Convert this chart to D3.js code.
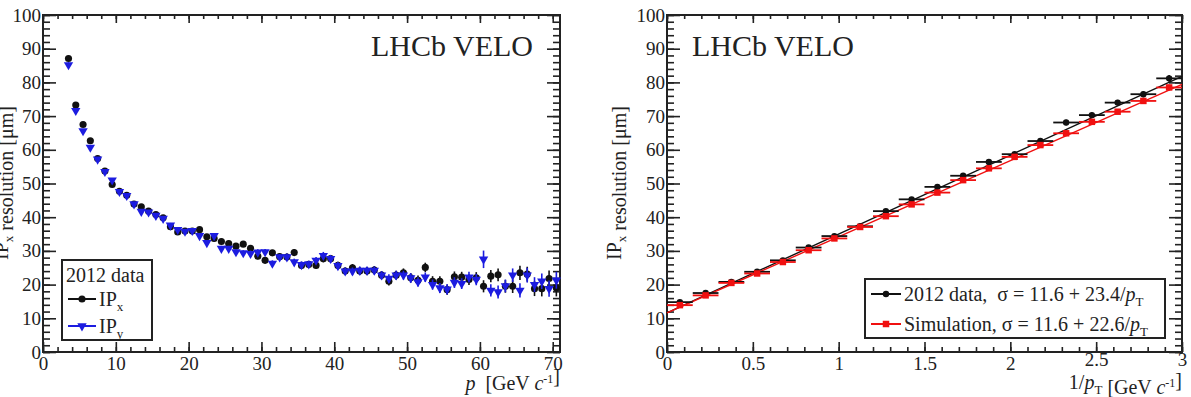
<!DOCTYPE html>
<html>
<head>
<meta charset="utf-8">
<script src="https://cdn.jsdelivr.net/npm/d3@7"></script>
<style>
body { margin: 0; background: #fff; }
svg text { font-family: "Liberation Serif", "Times New Roman", serif; fill: #222; white-space: pre; }
</style>
</head>
<body>
<svg id="chart" width="1191" height="397"></svg>
<script>
// left panel: IP resolution vs p
const pBins = [3.5,4.5,5.5,6.5,7.5,8.5,9.5,10.5,11.5,12.5,
  13.5,14.5,15.5,16.5,17.5,18.5,19.5,20.5,21.5,22.5,
  23.5,24.5,25.5,26.5,27.5,28.5,29.5,30.5,31.5,32.5,
  33.5,34.5,35.5,36.5,37.5,38.5,39.5,40.5,41.5,42.5,
  43.5,44.5,45.5,46.5,47.5,48.5,49.5,50.5,51.5,52.5,
  53.5,54.5,55.5,56.5,57.5,58.5,59.5,60.5,61.5,62.5,
  63.5,64.5,65.5,66.5,67.5,68.5,69.5,70.5];
const ipx = [87.1,73.3,67.5,62.7,57.4,53.7,49.7,47.7,46.5,43.9,
  43.1,41.8,40.8,39.8,37.2,35.6,35.9,35.9,36.3,34.2,
  33.7,32.8,32.2,31.4,32.0,30.8,28.4,27.2,29.4,28.3,
  28.2,29.5,25.7,26.0,25.7,27.7,27.7,25.7,24.0,25.0,
  24.0,24.0,24.3,22.8,21.0,22.8,23.5,22.0,21.3,25.1,
  21.0,21.0,18.5,22.3,22.2,21.5,22.0,19.5,22.5,22.9,
  19.5,19.5,23.5,23.1,18.8,18.8,21.8,19.0];
const ipxErr = [0.8,0.7,0.6,0.6,0.6,0.6,0.6,0.6,0.6,0.6,
  0.6,0.6,0.6,0.6,0.7,0.7,0.7,0.7,0.7,0.7,
  0.8,0.8,0.8,0.8,0.8,0.9,0.9,0.9,0.9,0.9,
  1.0,1.0,1.0,1.0,1.0,1.1,1.1,1.1,1.1,1.1,
  1.2,1.2,1.2,1.2,1.3,1.3,1.3,1.4,1.4,1.4,
  1.5,1.5,1.5,1.6,1.6,1.6,1.7,1.8,1.8,1.9,
  1.9,2.0,2.1,2.2,2.2,2.3,2.4,2.5];
const ipy = [85.2,71.6,65.6,60.7,57.2,53.5,51.0,47.6,46.4,43.9,
  41.7,41.5,40.5,39.6,37.6,36.3,35.8,36.0,34.5,32.4,
  34.5,30.7,30.7,29.7,29.4,29.2,29.6,29.7,26.3,28.2,
  28.2,26.7,25.9,26.1,27.2,28.6,27.7,25.6,24.0,24.0,
  24.2,24.2,24.2,22.8,21.8,22.8,22.8,22.0,20.8,22.2,
  20.0,19.0,18.6,20.6,20.3,22.2,21.5,27.5,18.3,17.8,
  19.6,22.8,18.3,22.8,20.0,21.0,18.8,21.3];
const ipyErr = [0.8,0.7,0.6,0.6,0.6,0.6,0.6,0.6,0.6,0.6,
  0.6,0.6,0.6,0.6,0.7,0.7,0.7,0.7,0.7,0.7,
  0.8,0.8,0.8,0.8,0.8,0.9,0.9,0.9,0.9,0.9,
  1.0,1.0,1.0,1.0,1.0,1.1,1.1,1.1,1.1,1.1,
  1.2,1.2,1.2,1.2,1.3,1.3,1.3,1.4,1.4,1.4,
  1.5,1.5,1.5,1.6,1.6,1.6,1.7,2.6,1.8,1.9,
  1.9,2.0,2.1,2.2,2.2,2.3,2.4,2.5];

// right panel: IPx resolution vs 1/pT
const invPt = [0.075,0.225,0.375,0.525,0.675,0.825,0.975,1.125,1.275,1.425,
  1.575,1.725,1.875,2.025,2.175,2.325,2.475,2.625,2.775,2.925];
const binHalf = 0.075;
const dataRes = [14.8,17.5,20.8,23.8,27.2,31.0,34.4,37.3,41.8,45.3,
  49.0,52.3,56.4,58.7,62.6,68.1,70.3,74.0,76.5,81.2];
const dataResErr = [0.6,0.5,0.5,0.5,0.5,0.5,0.5,0.5,0.6,0.6,
  0.6,0.6,0.7,0.7,0.7,0.8,0.8,0.8,0.9,1.0];
const simRes = [13.9,16.8,20.5,23.3,26.7,30.2,33.7,37.1,40.3,43.8,
  47.3,51.0,54.5,57.9,61.4,64.9,68.3,71.3,74.5,78.5];
const simResErr = [0.5,0.5,0.5,0.5,0.5,0.5,0.5,0.5,0.5,0.5,
  0.5,0.5,0.6,0.6,0.6,0.6,0.7,0.7,0.7,0.8];
const fitIntercept = [11.6, 11.6];
const fitSlope = [23.4, 22.6];

const yTicks = [0,10,20,30,40,50,60,70,80,90,100];
const yMinor = d3.range(0, 101, 2);
const pTicks = [0,10,20,30,40,50,60,70];
const pMinor = d3.range(0, 71, 2);
const invTicks = [0,0.5,1,1.5,2,2.5,3];
const invMinor = d3.range(0, 31).map(d => d / 10);

const svg = d3.select('#chart');
svg.append('rect').attr('width', 1191).attr('height', 397).attr('fill', '#fff');

const xL = d3.scaleLinear().domain([0, 71]).range([43, 560]);
const yL = d3.scaleLinear().domain([0, 100]).range([352, 15]);
const xR = d3.scaleLinear().domain([0, 3]).range([667, 1182]);
const yR = d3.scaleLinear().domain([0, 100]).range([352, 15]);

function styleAxis(g) {
  g.attr('font-family', '"Liberation Serif", serif');
  g.select('.domain').remove();
  g.selectAll('line').attr('stroke', '#222').attr('stroke-width', 1.6);
  g.selectAll('text').attr('font-size', 19);
}

function frame(x, y, xMajor, xMinor, xFmt) {
  const [x0, x1] = x.range(), [y0, y1] = y.range();
  const g = svg.append('g');
  g.append('g').attr('transform', `translate(0,${y0})`)
    .call(d3.axisBottom(x).tickValues(xMinor).tickSize(-5).tickFormat('')).call(styleAxis);
  const bottom = g.append('g').attr('transform', `translate(0,${y0})`)
    .call(d3.axisBottom(x).tickValues(xMajor).tickSize(-10).tickPadding(5).tickFormat(xFmt)).call(styleAxis);
  g.append('g').attr('transform', `translate(0,${y1})`)
    .call(d3.axisTop(x).tickValues(xMinor).tickSize(-4).tickFormat('')).call(styleAxis);
  g.append('g').attr('transform', `translate(0,${y1})`)
    .call(d3.axisTop(x).tickValues(xMajor).tickSize(-8).tickFormat('')).call(styleAxis);
  g.append('g').attr('transform', `translate(${x0},0)`)
    .call(d3.axisLeft(y).tickValues(yMinor).tickSize(-7).tickFormat('')).call(styleAxis);
  g.append('g').attr('transform', `translate(${x0},0)`)
    .call(d3.axisLeft(y).tickValues(yTicks).tickSize(-13).tickPadding(2).tickFormat(d3.format('d'))).call(styleAxis);
  g.append('g').attr('transform', `translate(${x1},0)`)
    .call(d3.axisRight(y).tickValues(yMinor).tickSize(-7).tickFormat('')).call(styleAxis);
  g.append('g').attr('transform', `translate(${x1},0)`)
    .call(d3.axisRight(y).tickValues(yTicks).tickSize(-13).tickFormat('')).call(styleAxis);
  g.append('rect').attr('x', x0).attr('y', y1).attr('width', x1 - x0).attr('height', y0 - y1)
    .attr('fill', 'none').attr('stroke', '#222').attr('stroke-width', 2);
  return bottom;
}

function series(x, y, xs, ys, errs, color, symbol, size, rot, xHalf) {
  const g = svg.append('g');
  const pts = xs.map((d, i) => ({x: d, y: ys[i], e: errs[i]}));
  if (xHalf) {
    g.selectAll('line.h').data(pts).join('line')
      .attr('x1', d => x(d.x - xHalf)).attr('x2', d => x(d.x + xHalf))
      .attr('y1', d => y(d.y)).attr('y2', d => y(d.y))
      .attr('stroke', color).attr('stroke-width', 1.8);
  }
  g.selectAll('line.v').data(pts).join('line')
    .attr('x1', d => x(d.x)).attr('x2', d => x(d.x))
    .attr('y1', d => y(d.y - d.e)).attr('y2', d => y(d.y + d.e))
    .attr('stroke', color).attr('stroke-width', 1.6);
  g.selectAll('path').data(pts).join('path')
    .attr('d', d3.symbol().type(symbol).size(size))
    .attr('transform', d => `translate(${x(d.x)},${y(d.y)}) rotate(${rot})`)
    .attr('fill', color);
}

const blue = '#1c1ce0', red = '#f01010', black = '#111';

// ---- left panel
frame(xL, yL, pTicks, pMinor, d3.format('d'));
series(xL, yL, pBins, ipx, ipxErr, black, d3.symbolCircle, 40, 0, 0);
series(xL, yL, pBins, ipy, ipyErr, blue, d3.symbolTriangle, 38, 180, 0);

// ---- right panel
const bottomR = frame(xR, yR, invTicks, invMinor, d => d3.format('')(d));
// root nudges the last two labels up, away from the axis title
bottomR.selectAll('.tick text').filter(d => d >= 2.5).attr('dy', '0.45em');
fitSlope.forEach((b, i) => {
  const dom = xR.domain();
  svg.append('line')
    .attr('x1', xR(dom[0])).attr('y1', yR(fitIntercept[i] + b * dom[0]))
    .attr('x2', xR(dom[1])).attr('y2', yR(fitIntercept[i] + b * dom[1]))
    .attr('stroke', i === 0 ? black : red).attr('stroke-width', 1.4);
});
series(xR, yR, invPt, dataRes, dataResErr, black, d3.symbolCircle, 32, 0, binHalf);
series(xR, yR, invPt, simRes, simResErr, red, d3.symbolSquare, 42, 0, binHalf);

// ---- texts
function label(x, y, parts, opts = {}) {
  const t = svg.append('text').attr('x', x).attr('y', y)
    .attr('font-size', opts.size || 20).attr('text-anchor', opts.anchor || 'start');
  if (opts.rotate) t.attr('transform', `rotate(${opts.rotate},${x},${y})`);
  parts.forEach(p => {
    const s = t.append('tspan').text(p.t);
    if (p.i) s.attr('font-style', 'italic');
    if (p.dy) s.attr('dy', p.dy);
    if (p.fs) s.attr('font-size', p.fs);
  });
  return t;
}
const sub = s => [{t: s, dy: 5, fs: 13}, {t: '', dy: -5}];
const sup = s => [{t: s, dy: -7, fs: 12}, {t: '', dy: 7}];

label(533, 56, [{t: 'LHCb VELO'}], {size: 30, anchor: 'end'});
label(692, 56, [{t: 'LHCb VELO'}], {size: 30});

label(560, 390, [{t: 'p', i: 1}, {t: '  [GeV '}, {t: 'c', i: 1}, ...sup('-1'), {t: ']'}], {anchor: 'end'});
label(1182, 389, [{t: '1/'}, {t: 'p', i: 1}, ...sub('T'), {t: ' [GeV '}, {t: 'c', i: 1}, ...sup('-1'), {t: ']'}], {anchor: 'end'});

label(8, 183, [{t: 'IP'}, ...sub('x'), {t: ' resolution [μm]'}], {anchor: 'middle', rotate: -90});
label(621, 183, [{t: 'IP'}, ...sub('x'), {t: ' resolution [μm]'}], {anchor: 'middle', rotate: -90});

// ---- legends
function legendBox(x, y, w, h) {
  svg.append('rect').attr('x', x).attr('y', y).attr('width', w).attr('height', h)
    .attr('fill', '#fff').attr('stroke', '#222').attr('stroke-width', 2);
}
function legendKey(x1, x2, y, color, symbol, size, rot) {
  svg.append('line').attr('x1', x1).attr('x2', x2).attr('y1', y).attr('y2', y)
    .attr('stroke', color).attr('stroke-width', 2);
  svg.append('path').attr('d', d3.symbol().type(symbol).size(size)())
    .attr('transform', `translate(${(x1 + x2) / 2},${y}) rotate(${rot})`).attr('fill', color);
}

legendBox(62, 260, 90, 80);
label(66, 282, [{t: '2012 data'}]);
legendKey(68, 96, 299, black, d3.symbolCircle, 40, 0);
label(99, 306, [{t: 'IP'}, ...sub('x')]);
legendKey(68, 96, 326, blue, d3.symbolTriangle, 38, 180);
label(99, 333, [{t: 'IP'}, ...sub('y')]);

legendBox(865, 279, 300, 59);
legendKey(871, 901, 294, black, d3.symbolCircle, 32, 0);
label(904, 301, [{t: '2012 data,  σ = 11.6 + 23.4/'}, {t: 'p', i: 1}, ...sub('T')]);
legendKey(871, 901, 324, red, d3.symbolSquare, 42, 0);
label(904, 331, [{t: 'Simulation, σ = 11.6 + 22.6/'}, {t: 'p', i: 1}, ...sub('T')]);
</script>
</body>
</html>
